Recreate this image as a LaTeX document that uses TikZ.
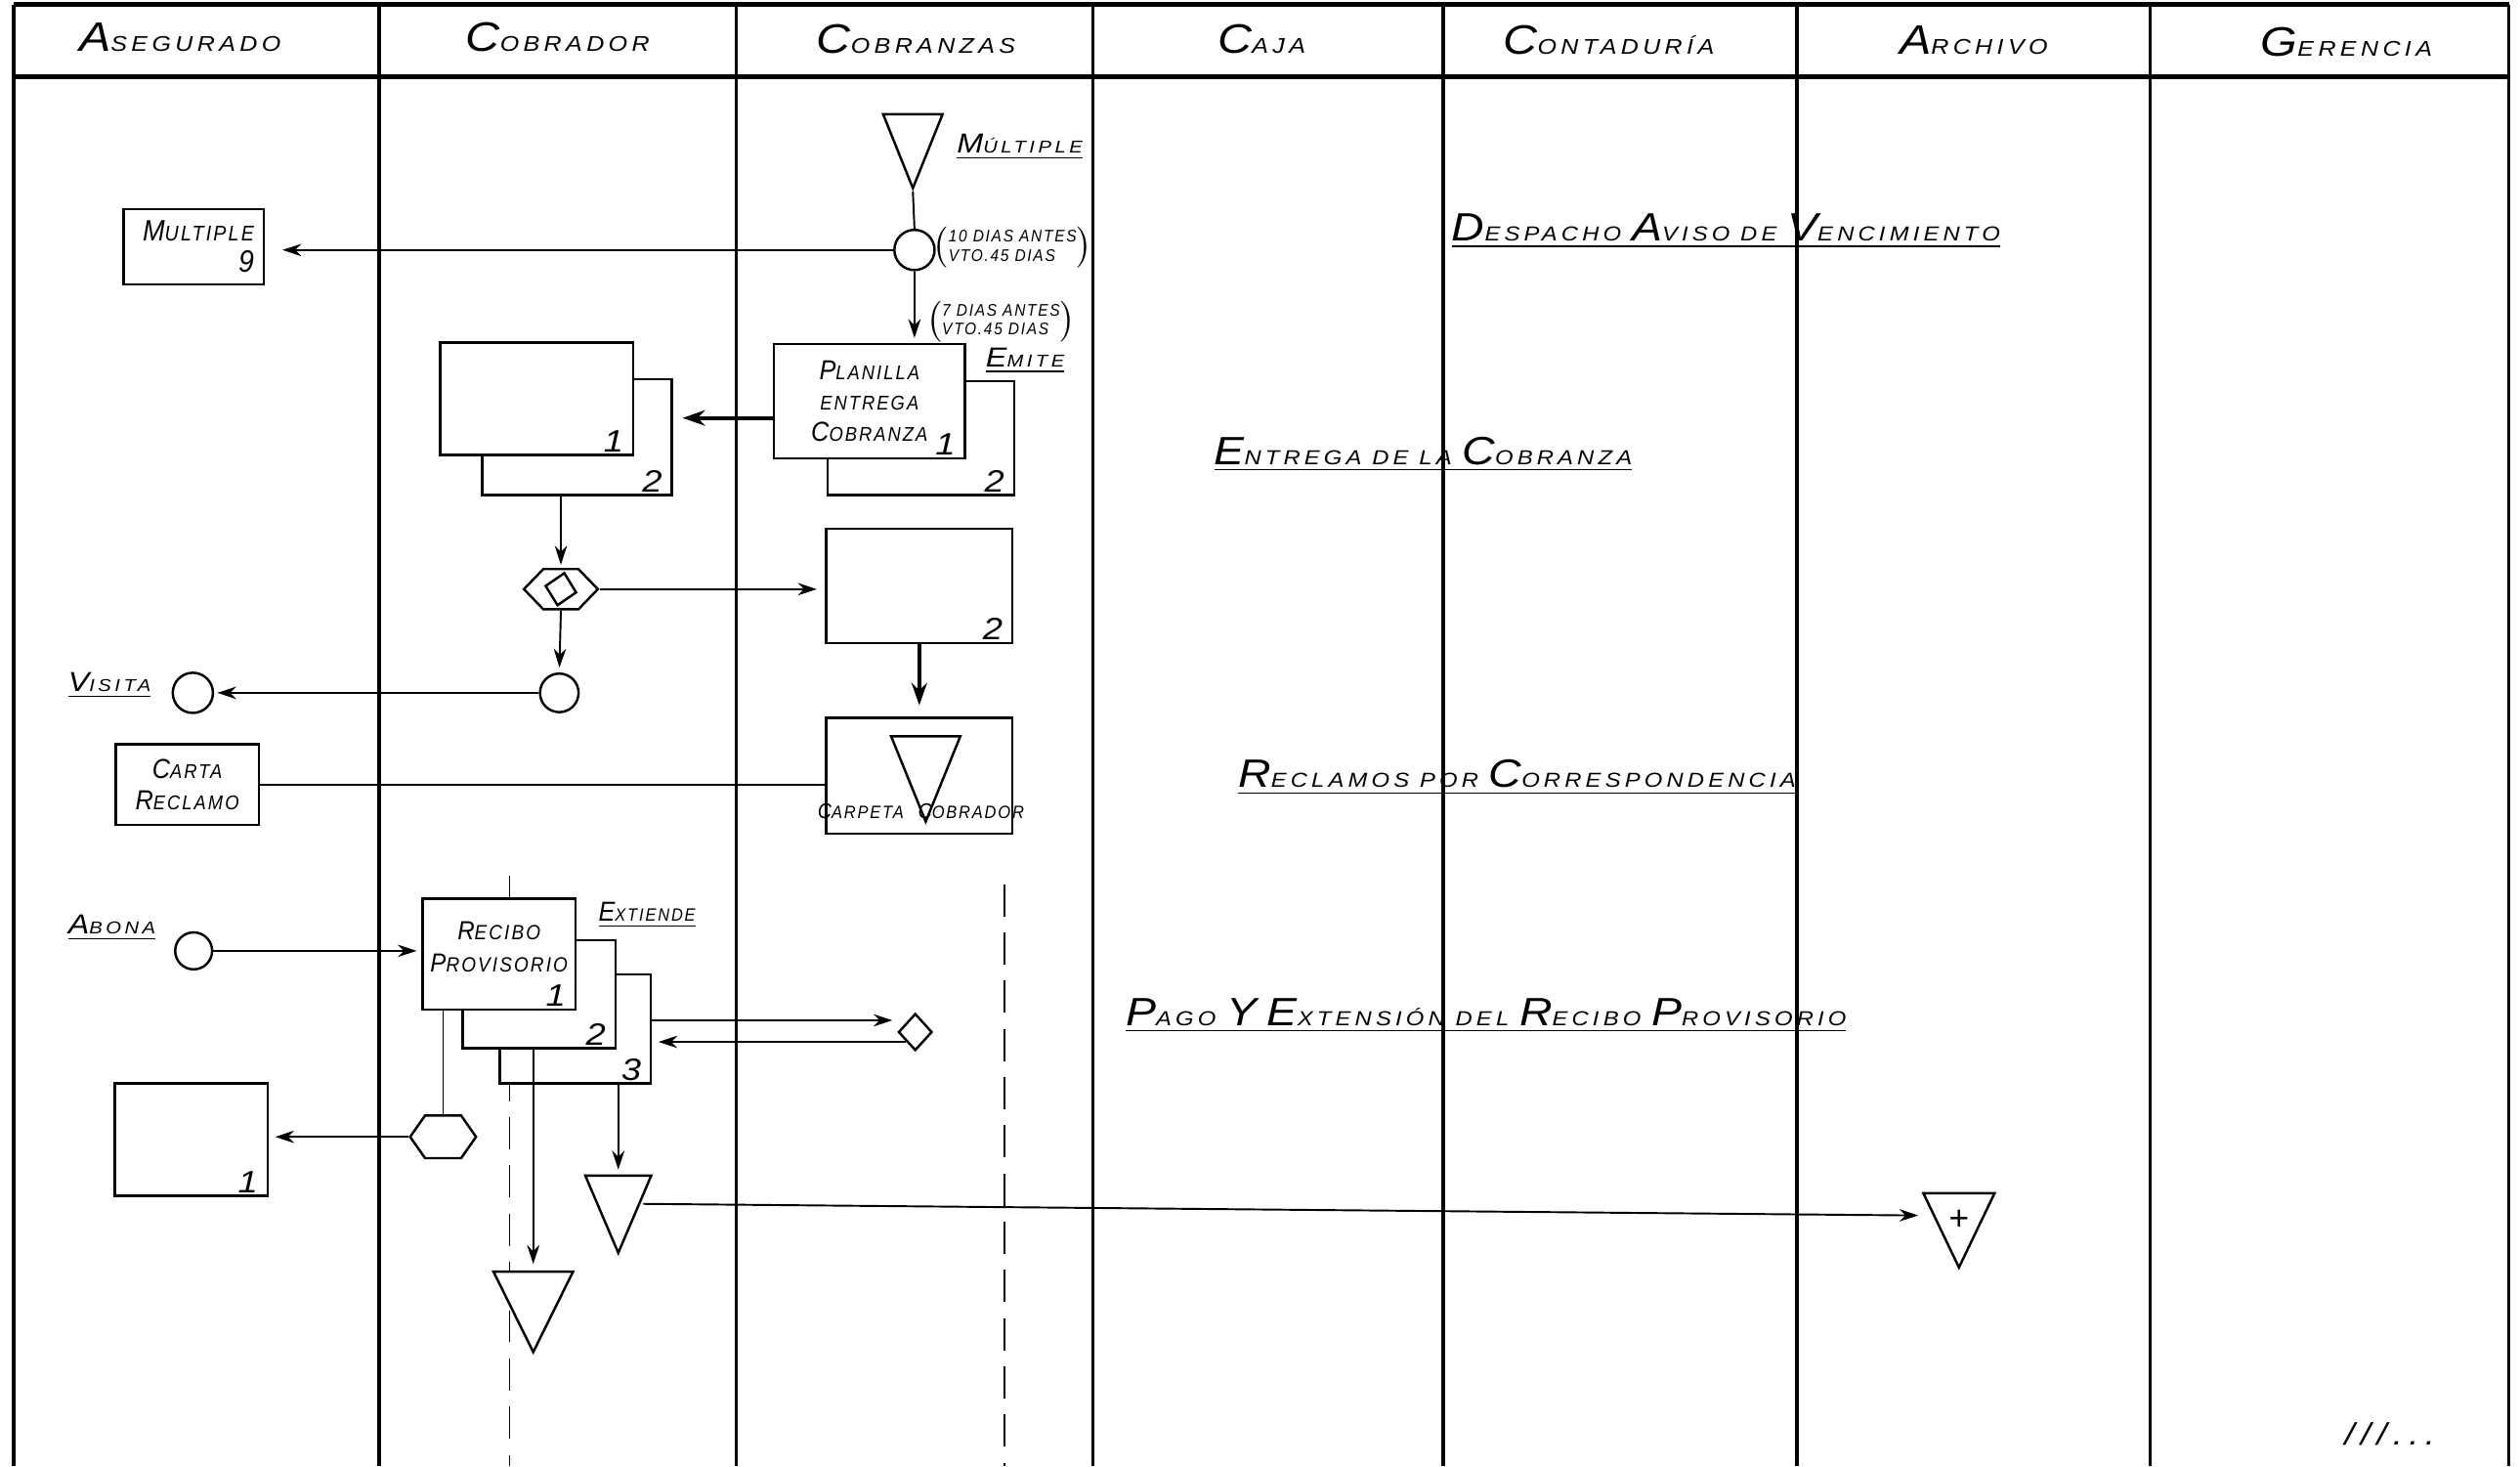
\documentclass[tikz,border=0pt]{standalone}
\usepackage{fontspec}
\setmainfont{Liberation Sans}
\newfontfamily\handfont{Liberation Sans}[FakeStretch=1.15, LetterSpace=20]
\newfontfamily\boxfont{Liberation Sans}[FakeStretch=0.9, LetterSpace=10]
\usetikzlibrary{shapes.geometric, shapes.symbols, arrows, arrows.meta, positioning}

\newlength{\px}
\setlength{\px}{0.016448cm}
\newcommand{\capsize}{8}
\newcommand{\hcap}[2]{{\fontsize{\capsize}{\capsize}\selectfont #1}#2}

\begin{document}
\begin{tikzpicture}[
    x=\px, y=-\px,
    lane/.style={line width=1pt},
    headline/.style={line width=1.4pt},
    headtext/.style={
        font=\handfont\itshape\fontsize{6.2}{7}\selectfont\def\capsize{12},
        anchor=base,
        inner sep=0pt
    },
    title/.style={
        font=\handfont\itshape\fontsize{5.9}{7}\selectfont\def\capsize{11.5},
        anchor=base west,
        inner sep=0pt
    },
    tag/.style={
        font=\handfont\itshape\fontsize{5}{6}\selectfont\def\capsize{8},
        anchor=base west,
        inner sep=0pt
    },
    note/.style={
        font=\boxfont\itshape\fontsize{4.9}{5.6}\selectfont,
        anchor=west,
        inner sep=0pt
    },
    doc/.style={
        rectangle,
        draw=black, line width=0.7pt,
        fill=white,
        inner sep=2pt,
        font=\boxfont\itshape\fontsize{5.8}{9}\selectfont\def\capsize{8},
        align=center
    },
    num/.style={
        font=\handfont\itshape\fontsize{9}{9}\selectfont,
        inner xsep=3pt, inner ysep=1pt,
        anchor=south east
    },
    filebin/.style={
        isosceles triangle,
        isosceles triangle stretches,
        shape border rotate=270,
        draw=black, line width=0.7pt,
        fill=white,
        inner sep=0pt
    },
    event/.style={
        circle,
        draw=black, line width=0.7pt,
        inner sep=0pt,
        minimum size=24\px
    },
    check/.style={
        signal, signal to=east and west,
        draw=black, line width=0.7pt,
        inner sep=0pt
    },
    gate/.style={
        diamond,
        draw=black, line width=0.7pt,
        inner sep=0pt
    },
    arrow/.style={
        line width=0.55pt, ->, >={Stealth[length=5.5pt, width=3.6pt]}
    },
    link/.style={
        line width=0.55pt
    },
    bold_arrow/.style={
        line width=1.1pt, ->, >={Stealth[length=6.5pt, width=4.5pt]}
    },
    fold/.style={
        line width=0.5pt, dash pattern=on 20\px off 10\px
    }
]

\useasboundingbox (0,0) rectangle (1568,912);

\draw[headline] (8.5,3) -- (1561,3);
\draw[headline] (8.5,47.6) -- (1561,47.6);
\foreach \xx in {8.5,236,458,680,898,1118,1338,1561}
    \draw[lane] (\xx,3) -- (\xx,912);

\node[headtext] (hase) at (112,32) {\hcap{A}{SEGURADO}};
\node[headtext] (hcobr) at (347,32) {\hcap{C}{OBRADOR}};
\node[headtext] (hcobz) at (570,33) {\hcap{C}{OBRANZAS}};
\node[headtext] (hcaja) at (785,33) {\hcap{C}{AJA}};
\node[headtext] (hcont) at (1001,34) {\hcap{C}{ONTADURÍA}};
\node[headtext] (harch) at (1228,34) {\hcap{A}{RCHIVO}};
\node[headtext] (hger) at (1460,35) {\hcap{G}{ERENCIA}};

\node[title] (sdesp) at (903,150) {\underline{\hcap{D}{ESPACHO} \hcap{A}{VISO} DE \hcap{V}{ENCIMIENTO}}};
\node[title] (sentr) at (755,289) {\underline{\hcap{E}{NTREGA} DE LA \hcap{C}{OBRANZA}}};
\node[title] (srecl) at (770,490) {\underline{\hcap{R}{ECLAMOS} POR \hcap{C}{ORRESPONDENCIA}}};
\node[title] (spago) at (700,638) {\underline{\hcap{P}{AGO} \hcap{Y}{} \hcap{E}{XTENSIÓN} DEL \hcap{R}{ECIBO} \hcap{P}{ROVISORIO}}};

\draw[fold] (317,545) -- (317,912);
\draw[fold] (625,550) -- (625,912);

\node[filebin, minimum width=37\px, minimum height=46\px, anchor=apex] (tmult) at (568,119) {};
\node[tag] (lmult) at (595,95) {\underline{\hcap{M}{ÚLTIPLE}}};
\node[event, minimum size=25\px] (cdesp) at (569,155.5) {};
\node[note] (n10) at (580,154) {$\left(\begin{tabular}{@{}l@{}}10 DIAS ANTES\\VTO.45 DIAS\end{tabular}\right)$};
\node[doc, minimum width=87\px, minimum height=47\px, text width=75\px, align=right, font=\boxfont\itshape\fontsize{6.2}{9}\selectfont\def\capsize{8.6}] (bmult) at (120.5,153.5) {\hcap{M}{ULTIPLE}\\{\fontsize{9}{9}\selectfont 9}};

\node[doc, minimum width=116\px, minimum height=71\px, label={[num]south east:2}] (pcopy) at (573,272.5) {};
\node[doc, minimum width=119\px, minimum height=71\px, label={[num]south east:1}] (pfront) at (541,249.5) {\hcap{P}{LANILLA}\\ENTREGA\\\hcap{C}{OBRANZA}\hspace{12\px}};
\node[note] (n7) at (576,200) {$\left(\begin{tabular}{@{}l@{}}7 DIAS ANTES\\VTO.45 DIAS\end{tabular}\right)$};
\node[tag] (lemite) at (613,228) {\underline{\hcap{E}{MITE}}};

\node[doc, minimum width=118\px, minimum height=72\px, label={[num]south east:2}] (ccopy) at (359,272) {};
\node[doc, minimum width=120\px, minimum height=70\px, label={[num]south east:1}] (cfront) at (334,248) {};

\draw[link] (tmult.apex) -- (cdesp.north);
\draw[arrow, shorten >=11\px] (cdesp.west) -- (cdesp.west -| bmult.east);
\draw[arrow, shorten >=3\px] (cdesp.south) -- (cdesp.south |- pfront.north);
\coordinate (pout) at ([yshift=-10.5\px]pfront.west);
\draw[bold_arrow, shorten >=6\px] (pout) -- (pout -| ccopy.east);

\node[check, minimum width=46\px, minimum height=25\px, signal pointer angle=92] (hexa) at (349,366.5) {};
\node[gate, minimum width=20\px, minimum height=21\px, rotate=-12] (gsel) at (hexa.center) {};
\node[doc, minimum width=116\px, minimum height=71\px, label={[num]south east:2}] (bsobre) at (572,364.5) {};
\node[event] (cvis) at (348,431) {};
\node[event, minimum size=25\px] (cvisita) at (120,431) {};
\node[tag] (lvisita) at (42,430) {\underline{\hcap{V}{ISITA}}};

\draw[arrow, shorten >=2\px] (hexa.north |- ccopy.south) -- (hexa.north);
\draw[arrow, shorten >=5\px] (hexa.east) -- (hexa.east -| bsobre.west);
\draw[arrow, shorten >=3\px] (hexa.south) -- (cvis.north);
\draw[arrow, shorten >=2\px] (cvis.west) -- (cvisita.east);

\node[doc, minimum width=116\px, minimum height=72\px] (bcarp) at (572,482.5) {};
\node[filebin, minimum width=43\px, minimum height=53\px, anchor=apex] (tcarp) at (576,513) {};
\node[font=\boxfont\itshape\fontsize{5.2}{6}\selectfont\def\capsize{6.2}, anchor=base, inner sep=0pt] (lcarp) at (573,509) {\hcap{C}{ARPETA}\hspace{9\px}\hcap{C}{OBRADOR}};
\node[doc, minimum width=89\px, minimum height=50\px] (bcarta) at (116.5,488) {\hcap{C}{ARTA}\\\hcap{R}{ECLAMO}};

\draw[bold_arrow, shorten >=7\px] (bsobre.south) -- (bcarp.north);
\draw[link] (bcarta.east) -- (bcarta.east -| bcarp.west);

\node[tag] (labona) at (42,581) {\underline{\hcap{A}{BONA}}};
\node[event, minimum size=23\px] (cabona) at (120.5,591.5) {};
\node[tag, font=\boxfont\itshape\fontsize{5.2}{6}\selectfont\def\capsize{8}] (lext) at (372,573) {\underline{\hcap{E}{XTIENDE}}};
\node[doc, minimum width=94\px, minimum height=68\px, label={[num]south east:3}] (rcopyb) at (358,640) {};
\node[doc, minimum width=95\px, minimum height=67\px, label={[num]south east:2}] (rcopya) at (335.5,618.5) {};
\node[doc, minimum width=95\px, minimum height=69\px, label={[num]south east:1}, font=\boxfont\itshape\fontsize{6}{9.4}\selectfont\def\capsize{7.6}] (rfront) at (310.5,593.5) {\hcap{R}{ECIBO}\\\hcap{P}{ROVISORIO}\\[-5pt]};
\node[gate, minimum width=21\px, minimum height=23\px] (dcontrol) at (569.5,642) {};
\node[check, minimum width=41\px, minimum height=26.5\px, signal pointer angle=110] (hexb) at (275.7,707.2) {};
\node[doc, minimum width=95\px, minimum height=70\px, label={[num]south east:1}] (bdupl) at (119,708.8) {};
\node[filebin, minimum width=49.5\px, minimum height=50\px, anchor=apex] (tbig) at (331.8,843) {};
\node[filebin, minimum width=41\px, minimum height=48\px, anchor=apex] (tsmall) at (384.7,781.3) {};
\node[filebin, minimum width=44.3\px, minimum height=46.2\px, anchor=apex] (tarch) at (1218.9,790.4) {};
\node[font=\fontsize{10}{10}\selectfont, inner sep=0pt] (plus) at (1219,759) {+};

\draw[arrow, shorten >=3\px] (cabona.east) -- (cabona.east -| rfront.west);
\coordinate (rout) at ([yshift=5.3\px]rcopyb.east);
\draw[arrow, shorten >=3\px] (rout) -- (rout -| dcontrol.west);
\draw[arrow, shorten >=4\px] (dcontrol.south west) -- (dcontrol.south west -| rcopyb.east);
\draw[link] (hexb.north |- rfront.south) -- (hexb.north);
\draw[arrow, shorten >=4\px] (hexb.west) -- (hexb.west -| bdupl.east);
\draw[arrow, shorten >=4\px] (tbig.north |- rcopya.south) -- (tbig.north);
\draw[arrow, shorten >=3\px] (tsmall.north |- rcopyb.south) -- (tsmall.north);
\draw[arrow, shorten >=9\px] ([yshift=-4\px]tsmall.east) -- (tarch.west);

\node[font=\handfont\itshape\fontsize{9}{9}\selectfont, inner sep=0pt] (cont) at (1487,892) {///...};

\end{tikzpicture}
\end{document}
